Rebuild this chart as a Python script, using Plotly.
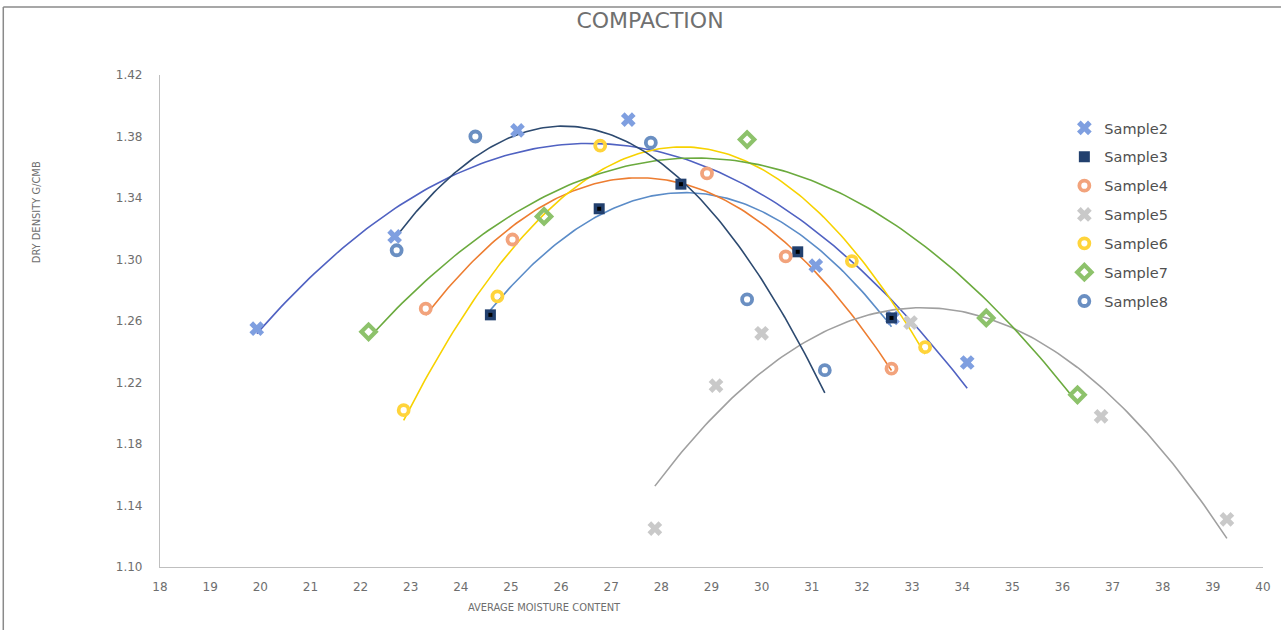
import numpy as np
import plotly.graph_objects as go

# Compaction test results: average moisture content (%) vs dry density (g/cm3)
sample_names = ["Sample2", "Sample3", "Sample4", "Sample5", "Sample6", "Sample7", "Sample8"]

moisture_s2 = [19.93, 22.68, 25.13, 27.34, 31.08, 32.61, 34.10]
density_s2 = [1.255, 1.315, 1.384, 1.391, 1.296, 1.262, 1.233]

moisture_s3 = [24.59, 26.76, 28.39, 30.72, 32.59]
density_s3 = [1.264, 1.333, 1.349, 1.305, 1.262]

moisture_s4 = [23.30, 25.03, 28.91, 30.48, 32.59]
density_s4 = [1.268, 1.313, 1.356, 1.302, 1.229]

moisture_s5 = [27.87, 29.09, 30.00, 32.97, 36.77, 39.28]
density_s5 = [1.125, 1.218, 1.252, 1.259, 1.198, 1.131]

moisture_s6 = [22.86, 24.73, 26.78, 31.80, 33.26]
density_s6 = [1.202, 1.276, 1.374, 1.299, 1.243]

moisture_s7 = [22.16, 25.66, 29.71, 34.48, 36.30]
density_s7 = [1.253, 1.328, 1.378, 1.262, 1.212]

moisture_s8 = [22.72, 24.29, 27.79, 29.71, 31.26]
density_s8 = [1.306, 1.380, 1.376, 1.274, 1.228]

x_ticks = list(range(18, 41))
y_ticks = [1.10, 1.14, 1.18, 1.22, 1.26, 1.30, 1.34, 1.38, 1.42]

series = [
    # name, x, y, marker symbol, marker colour, trendline colour, size, line width
    ("Sample2", moisture_s2, density_s2, "x", "#7F9FE0", "#5062C2", 13, 0),
    ("Sample3", moisture_s3, density_s3, "square", "#22406E", "#5B8CC8", 11, 0),
    ("Sample4", moisture_s4, density_s4, "circle-open", "#F2A37C", "#ED7D31", 10, 3.8),
    ("Sample5", moisture_s5, density_s5, "x", "#C9C9C9", "#A0A0A0", 13, 0),
    ("Sample6", moisture_s6, density_s6, "circle-open", "#FFD43B", "#F7D200", 10, 3.8),
    ("Sample7", moisture_s7, density_s7, "diamond-open", "#8DC26B", "#6BAA3E", 11, 4.2),
    ("Sample8", moisture_s8, density_s8, "circle-open", "#6A8FC2", "#2D4A70", 10, 3.8),
]

fig = go.Figure()

for name, xs, ys, symbol, mcolor, lcolor, size, lw in series:
    xs = np.asarray(xs)
    ys = np.asarray(ys)
    # second-order polynomial trendline over the measured range
    coeffs = np.polyfit(xs, ys, 2)
    xt = np.linspace(xs.min(), xs.max(), 150)
    yt = np.polyval(coeffs, xt)
    fig.add_trace(go.Scatter(
        x=xt, y=yt, mode="lines", line=dict(color=lcolor, width=1.6),
        legendgroup=name, showlegend=False, hoverinfo="skip",
    ))

for name, xs, ys, symbol, mcolor, lcolor, size, lw in series:
    if symbol.endswith("open"):
        marker = dict(symbol=symbol, size=size, color=mcolor,
                      line=dict(color=mcolor, width=lw))
    else:
        marker = dict(symbol=symbol, size=size, color=mcolor, line=dict(width=0))
    fig.add_trace(go.Scatter(
        x=xs, y=ys, mode="markers", name=name, marker=marker, legendgroup=name,
    ))
    if name == "Sample3":
        # dark centre on the square markers
        fig.add_trace(go.Scatter(
            x=xs, y=ys, mode="markers", legendgroup=name, showlegend=False,
            marker=dict(symbol="square", size=4, color="#000000", line=dict(width=0)),
            hoverinfo="skip",
        ))

L, R, T, B = 160, 1265, 75, 567
W, H = 1283, 630
pw, ph = R - L, B - T


def px(xp):
    return (xp - L) / pw


def py(yp):
    return (B - yp) / ph


tick_font = dict(family="DejaVu Sans", size=12, color="#6E6E6E")

fig.update_layout(
    width=W, height=H,
    margin=dict(l=L, r=W - R, t=T, b=H - B),
    paper_bgcolor="white", plot_bgcolor="white",
    title=dict(text="COMPACTION", x=650 / W, xref="container", xanchor="center",
               y=1 - 20 / H, yref="container", yanchor="middle",
               font=dict(family="DejaVu Sans", size=22, color="#707070")),
    xaxis=dict(range=[18, 40], tickvals=x_ticks, ticktext=[str(v) for v in x_ticks],
               showgrid=False, zeroline=False, showline=True, linecolor="#BFBFBF",
               linewidth=1.2, ticks="", tickfont=tick_font, ticklabelstandoff=8),
    yaxis=dict(range=[1.10, 1.42], tickvals=y_ticks, ticktext=[f"{v:.2f}" for v in y_ticks],
               showgrid=False, zeroline=False, showline=True, linecolor="#BFBFBF",
               linewidth=1.2, ticks="", tickfont=tick_font, ticklabelstandoff=14),
    legend=dict(x=px(1066), y=py(112), xanchor="left", yanchor="top",
                font=dict(family="DejaVu Sans", size=14.5, color="#505050"),
                tracegroupgap=7, bgcolor="rgba(0,0,0,0)", itemwidth=30),
    annotations=[
        dict(text="AVERAGE MOISTURE CONTENT", x=px(545), y=py(607), xref="paper",
             yref="paper", showarrow=False, xanchor="center", yanchor="middle",
             font=dict(family="DejaVu Sans Condensed, DejaVu Sans", size=11, color="#6E6E6E")),
        dict(text="DRY DENSITY G/CMB", x=px(36), y=py(212), xref="paper", yref="paper",
             showarrow=False, textangle=-90, xanchor="center", yanchor="middle",
             font=dict(family="DejaVu Sans Condensed, DejaVu Sans", size=11, color="#6E6E6E")),
    ],
    shapes=[
        dict(type="line", xref="paper", yref="paper", x0=px(3), x1=px(1283), y0=py(7), y1=py(7),
             line=dict(color="#8A8A8A", width=1.5)),
        dict(type="line", xref="paper", yref="paper", x0=px(3), x1=px(3), y0=py(7), y1=py(630),
             line=dict(color="#8A8A8A", width=1.5)),
    ],
    showlegend=True,
)

fig.write_html("out.html")
